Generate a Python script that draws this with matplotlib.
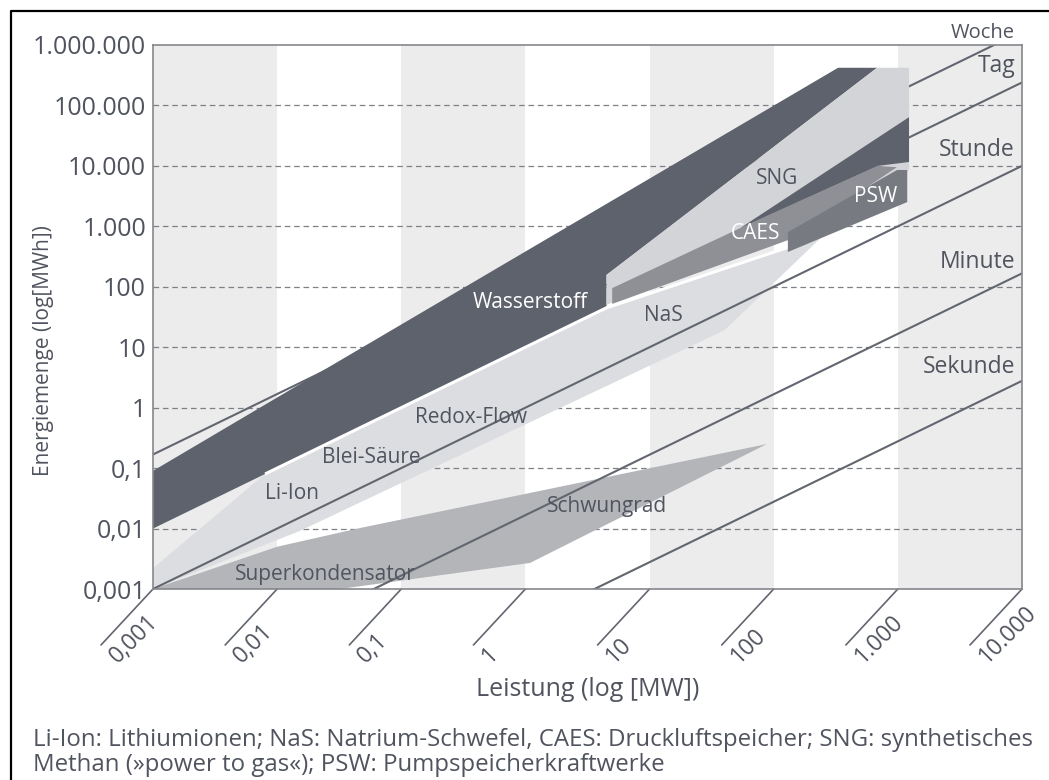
import matplotlib.pyplot as plt
import numpy as np
from matplotlib.lines import Line2D

plt.rcParams['font.family'] = ['Open Sans', 'DejaVu Sans']

# Leistung (MW) / Energiemenge (MWh) der Speicherbereiche
wasserstoff_p = [0.001, 0.001, 0.0134, 330, 680, 4.5, 4.5]
wasserstoff_e = [0.01, 0.09, 2.1, 4.2e5, 4.2e5, 157, 45]

sng_p = [4.5, 680, 1230, 1230, 4.5]
sng_e = [157, 4.2e5, 4.2e5, 8500, 50]

caes_p = [5, 54, 690, 980, 130, 5]
caes_e = [95, 940, 10000, 9500, 590, 52]

caes_oben_p = [54, 1230, 1230, 690]
caes_oben_e = [940, 64000, 11600, 10000]

psw_p = [130, 985, 1190, 1190, 130]
psw_e = [800, 8550, 8550, 2520, 376]

batterie_p = [0.001, 0.001, 0.008, 4.5, 5, 250, 40, 0.015]
batterie_e = [0.001, 0.0022, 0.08, 45, 48, 700, 19, 0.009]

schwungrad_p = [0.001, 0.01, 0.0465, 88, 1.09, 0.032]
schwungrad_e = [0.001, 0.005, 0.0102, 0.25, 0.0027, 0.001]

# Speicherdauer in Stunden
dauer_namen = ['Woche', 'Tag', 'Stunde', 'Minute', 'Sekunde']
dauer_h = [168, 24, 1, 1 / 60, 1 / 3600]

x_ticks = [1e-3, 1e-2, 1e-1, 1, 10, 100, 1e3, 1e4]
x_labels = ['0,001', '0,01', '0,1', '1', '10', '100', '1.000', '10.000']
y_ticks = [1e-3, 1e-2, 1e-1, 1, 10, 100, 1e3, 1e4, 1e5, 1e6]
y_labels = ['0,001', '0,01', '0,1', '1', '10', '100', '1.000', '10.000',
            '100.000', '1.000.000']

TEXT = '#50545e'
LINE = '#62666f'
DUNKEL = '#5e626d'

W, H = 1049, 780
fig = plt.figure(figsize=(W / 100, H / 100), dpi=100)
ax = fig.add_axes([153 / W, (H - 589) / H, 869 / W, 544 / H])
ax.set_xscale('log')
ax.set_yscale('log')
ax.set_xlim(1e-3, 1e4)
ax.set_ylim(1e-3, 1e6)

# graue Streifen für jede zweite Dekade
for i in range(0, 7, 2):
    ax.axvspan(x_ticks[i], x_ticks[i + 1], color='#ececec', lw=0, zorder=0)

for y in y_ticks[1:-1]:
    ax.axhline(y, color='#7d8087', lw=0.9, ls=(0, (4.5, 3)), zorder=1)

p_lin = np.array([1e-3, 1e4])
for name, h in zip(dauer_namen, dauer_h):
    z = 2 if h > 10 else 9
    ax.plot(p_lin, p_lin * h, color=LINE, lw=1.5, zorder=z)

ax.fill(schwungrad_p, schwungrad_e, color='#b4b5b9', lw=0, zorder=3)
ax.fill(wasserstoff_p, wasserstoff_e, color=DUNKEL, lw=0, zorder=3)
ax.fill(sng_p, sng_e, color='#d3d4d7', lw=0, zorder=4)
ax.fill(caes_p, caes_e, color='#8e9096', lw=0, zorder=5)
ax.fill(caes_oben_p, caes_oben_e, color=DUNKEL, lw=0, zorder=6)
ax.fill(batterie_p, batterie_e, color='#dcdde0', lw=0, zorder=6)
# weiße Trennkante zwischen Batterien und Wasserstoff/CAES
ax.plot(batterie_p[2:6], batterie_e[2:6], color='white', lw=2.2,
        solid_capstyle='butt', zorder=6.5)
ax.fill(psw_p, psw_e, color='#777a81', lw=0, zorder=7)

# Beschriftungen der Bereiche
bereiche = [
    ('Wasserstoff', 0.434, 0.526, 'white'),
    ('NaS', 0.587, 0.502, TEXT),
    ('Redox-Flow', 0.366, 0.316, TEXT),
    ('Blei-Säure', 0.251, 0.241, TEXT),
    ('Li-Ion', 0.160, 0.176, TEXT),
    ('Superkondensator', 0.198, 0.026, TEXT),
    ('Schwungrad', 0.522, 0.151, TEXT),
    ('SNG', 0.718, 0.754, TEXT),
    ('CAES', 0.693, 0.654, 'white'),
    ('PSW', 0.831, 0.721, 'white'),
]
for txt, bx, by, col in bereiche:
    ax.text(bx, by, txt, transform=ax.transAxes, ha='center', va='center',
            fontsize=15, color=col, zorder=10)

# Beschriftung der Zeitlinien am rechten Rand
dauer_pos = [1.022, 0.962, 0.807, 0.601, 0.408]
dauer_size = [14.5, 16.5, 16.5, 16.5, 16.5]
for name, py, fs in zip(dauer_namen, dauer_pos, dauer_size):
    ax.text(0.992, py, name, transform=ax.transAxes, ha='right', va='center',
            fontsize=fs, color=TEXT, zorder=10, clip_on=False)

ax.set_yticks(y_ticks, y_labels)
ax.yaxis.set_minor_locator(plt.NullLocator())
ax.xaxis.set_minor_locator(plt.NullLocator())
ax.set_xticks([])
ax.tick_params(axis='y', length=0, pad=5, labelsize=18, labelcolor=TEXT)

# schräge Teilstriche und Beschriftung der x-Achse
for x, lab in zip(x_ticks, x_labels):
    ax.annotate('', xy=(x, 0), xycoords=('data', 'axes fraction'),
                xytext=(-52, -56), textcoords='offset pixels',
                arrowprops=dict(arrowstyle='-', color=LINE, lw=1.2,
                                shrinkA=0, shrinkB=0),
                annotation_clip=False)
    ax.annotate(lab, xy=(x, 0), xycoords=('data', 'axes fraction'),
                xytext=(-48, -62), textcoords='offset pixels',
                rotation=45, rotation_mode='anchor', ha='left', va='top',
                fontsize=16.5, color=TEXT, annotation_clip=False)

for s in ax.spines.values():
    s.set_color('#85878c')
    s.set_linewidth(1.2)
    s.set_zorder(11)

fig.text(588 / W, 1 - 690 / H, 'Leistung (log [MW])', ha='center',
         va='center', fontsize=18, color=TEXT)
fig.text(44 / W, 1 - 351 / H, 'Energiemenge (log[MWh])', ha='center',
         va='center', rotation=90, fontsize=15, color=TEXT)

fig.text(33 / W, 1 - 740 / H,
         'Li-Ion: Lithiumionen; NaS: Natrium-Schwefel, CAES: Druckluftspeicher; '
         'SNG: synthetisches', ha='left', va='center', fontsize=17.3, color=TEXT)
fig.text(33 / W, 1 - 765 / H, 'Methan (»power to gas«); PSW: Pumpspeicherkraftwerke',
         ha='left', va='center', fontsize=17.3, color=TEXT)

# Rahmen oben und links
fig.add_artist(Line2D([11 / W, 11 / W, 1], [0, 1 - 11 / H, 1 - 11 / H],
                      transform=fig.transFigure, color='black', lw=1.6))

fig.savefig('out.png', dpi=100)
